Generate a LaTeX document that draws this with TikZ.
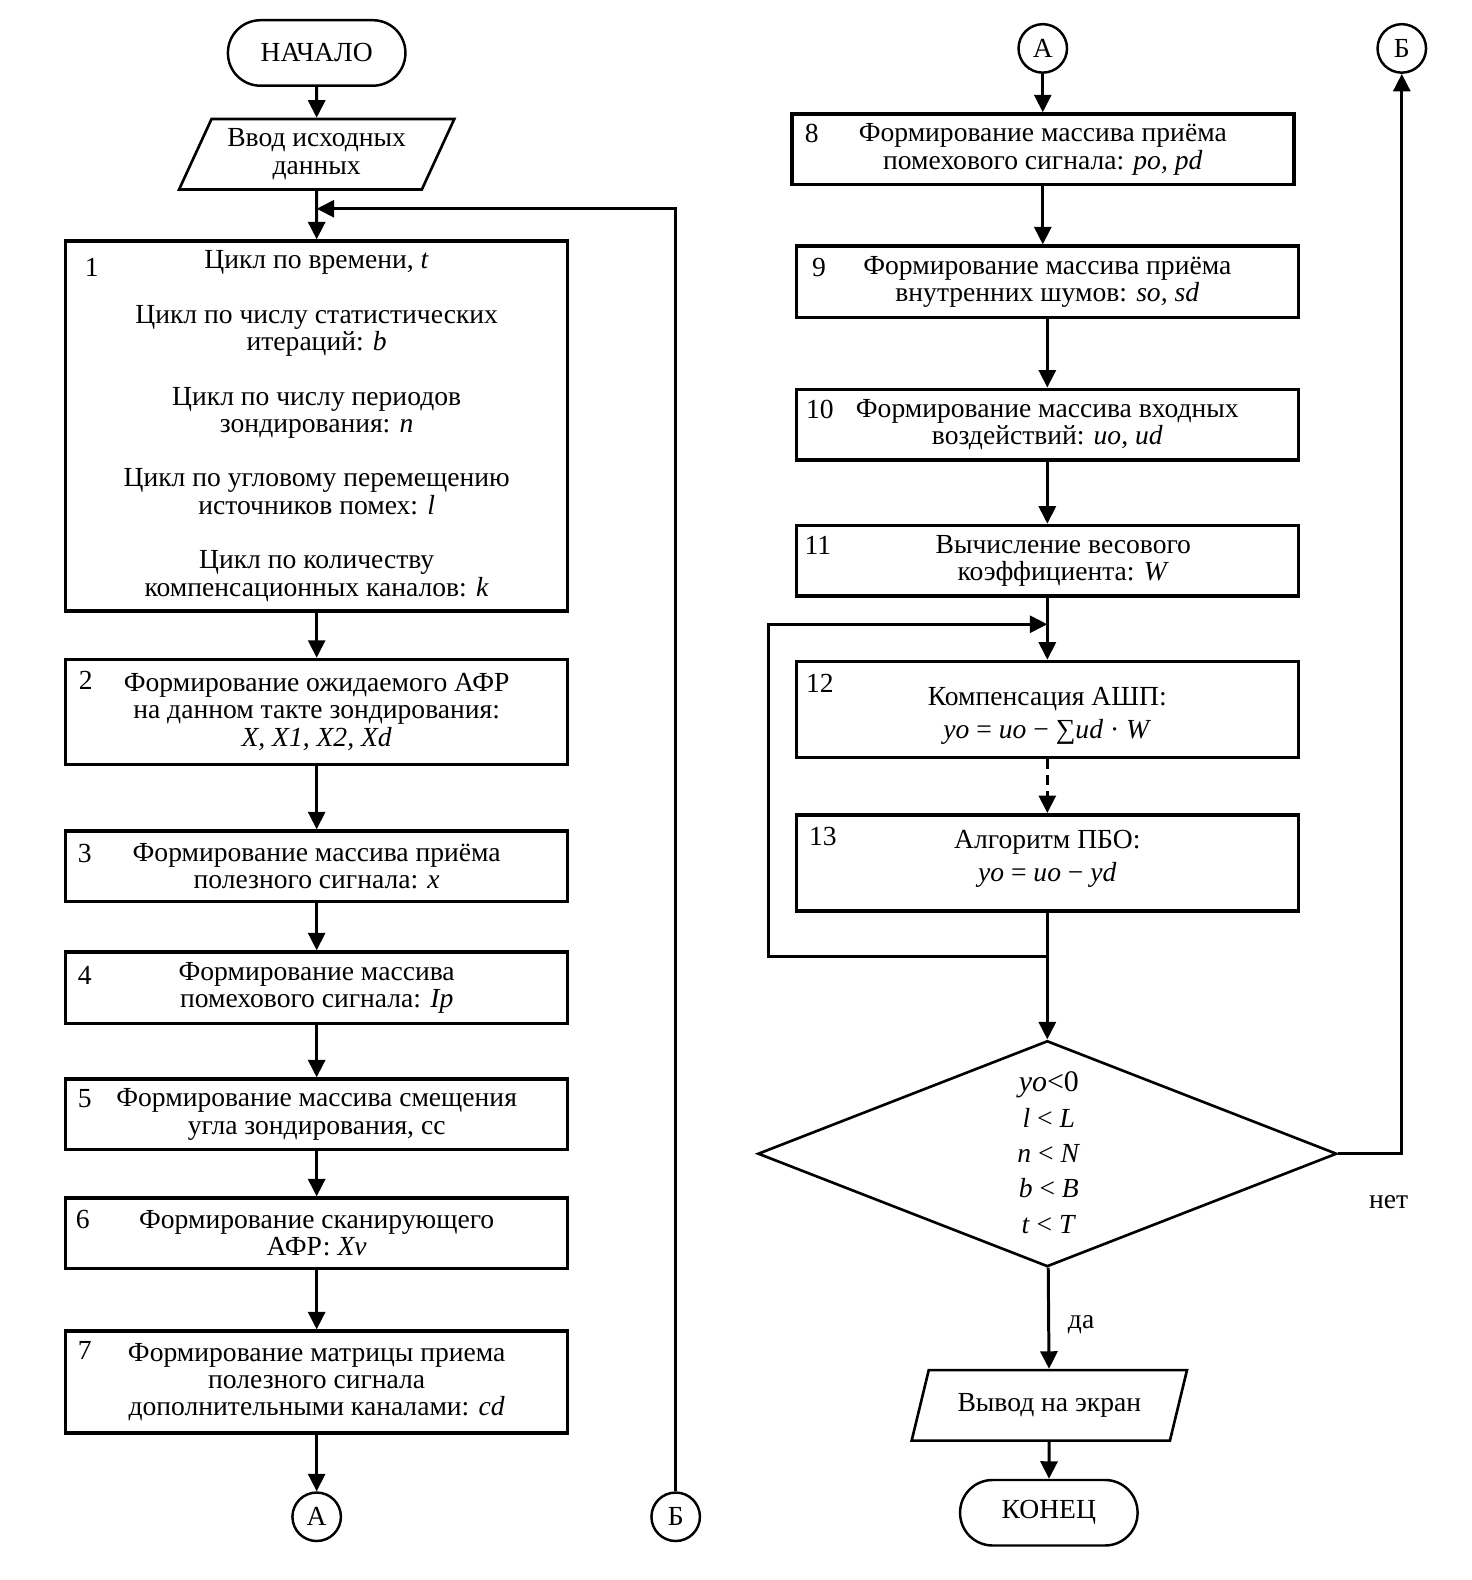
\documentclass[tikz,border=0pt]{standalone}
\usepackage{fontspec}
\setmainfont{Liberation Serif}
\usetikzlibrary{arrows.meta, shapes.geometric, positioning}

\begin{document}
\begin{tikzpicture}[x=0.02017cm, y=-0.02017cm,
    >={Triangle[length=0.35cm, width=0.34cm]},
    every node/.style={font=\fontsize{15.7}{15.6}\selectfont},
    box/.style={draw, line width=2pt, minimum width=10.04cm, align=center, inner sep=0pt},
    term/.style={draw, line width=1.4pt, rounded corners=0.65cm, minimum width=3.55cm, minimum height=1.31cm},
    io/.style={draw, trapezium, trapezium left angle=61.5, trapezium right angle=118.5,
        trapezium stretches=true, line width=1.5pt, minimum width=5.51cm, minimum height=1.41cm,
        align=center, inner sep=0pt},
    conn/.style={draw, circle, line width=1.4pt, minimum size=0.97cm, inner sep=0pt},
    num/.style={inner sep=0pt},
    line/.style={line width=1.7pt}]
    \useasboundingbox (0,0) rectangle (1459.6,1566.7);

    % Left column
    \node[term] (start) at (314,52.5) {НАЧАЛО};
    \node[io] (in) at (314,153) {Ввод исходных\\данных};
    \node[box, minimum height=7.40cm] (b1) at (314,422.5) {Цикл по времени, \textit{t}\\[0.54cm]
        Цикл по числу статистических\\итераций: \textit{b}\\[0.54cm]
        Цикл по числу периодов\\зондирования: \textit{n}\\[0.54cm]
        Цикл по угловому перемещению\\источников помех: \textit{l}\\[0.54cm]
        Цикл по количеству\\компенсационных каналов: \textit{k}};
    \node[box, minimum height=2.10cm] (b2) at (314,706) {Формирование ожидаемого АФР\\на данном такте зондирования:\\\textit{X, X1, X2, Xd}};
    \node[box, minimum height=1.41cm] (b3) at (314,859) {Формирование массива приёма\\полезного сигнала: \textit{x}};
    \node[box, minimum height=1.43cm] (b4) at (314,979.5) {Формирование массива\\помехового сигнала: \textit{Ip}};
    \node[box, minimum height=1.41cm] (b5) at (314,1105) {Формирование массива смещения\\угла зондирования, cc};
    \node[box, minimum height=1.41cm] (b6) at (314,1223) {Формирование сканирующего\\АФР: \textit{Xv}};
    \node[box, minimum height=2.04cm] (b7) at (314,1370.5) {Формирование матрицы приема\\полезного сигнала\\дополнительными каналами: \textit{cd}};
    \node[conn] (A1) at (314,1504) {А};
    \node[conn] (B1) at (670,1504) {Б};

    % Step numbers
    \node[num] (n1) at (91,265) {1};
    \node[num] (n2) at (85,675) {2};
    \node[num] (n3) at (84,846) {3};
    \node[num] (n4) at (84,967) {4};
    \node[num] (n5) at (84,1089) {5};
    \node[num] (n6) at (82,1209) {6};
    \node[num] (n7) at (84,1339) {7};

    % Right column
    \node[conn] (A2) at (1034,48) {А};
    \node[conn] (B2) at (1390,48) {Б};
    \node[box, minimum height=1.41cm] (b8) at (1034,148) {Формирование массива приёма\\помехового сигнала: \textit{po, pd}};
    \node[box, minimum height=1.43cm] (b9) at (1038.5,279.5) {Формирование массива приёма\\внутренних шумов: \textit{so, sd}};
    \node[box, minimum height=1.41cm] (b10) at (1038.5,421) {Формирование массива входных\\воздействий: \textit{uo, ud}};
    \node[box, minimum height=1.41cm] (b11) at (1038.5,556) {\hspace*{0.64cm}Вычисление весового\\\hspace*{0.64cm}коэффициента: \textit{W}};
    \node[box, minimum height=1.92cm] (b12) at (1038.5,703.5) {\rule{0pt}{18pt}Компенсация АШП:\\[3pt]\textit{yo} = \textit{uo} − ∑\textit{ud} · \textit{W}};
    \node[box, minimum height=1.92cm] (b13) at (1038.5,855.5) {Алгоритм ПБО:\\[3pt]\textit{yo} = \textit{uo} − \textit{yd}\\[-8pt]\mbox{}};
    \node[draw, diamond, line width=1.5pt, minimum width=11.58cm, minimum height=4.52cm, inner sep=0pt] (dec) at (1038.5,1144) {};
    \node[align=center] (cond) at (1040,1143) {{\fontsize{17}{17}\selectfont\textit{yo}<0}\\[4.5pt]
        \textit{l} < \textit{L}\\[4.5pt] \textit{n} < \textit{N}\\[4.5pt] \textit{b} < \textit{B}\\[4.5pt] \textit{t} < \textit{T}};
    \node (no) at (1377,1192) {нет};
    \node (yes) at (1072,1314) {да};
    \node[io] (out) at (1040.5,1393.5) {Вывод на экран};
    \node[term] (end) at (1040,1500) {КОНЕЦ};

    \node[num] (n8) at (805,132) {8};
    \node[num] (n9) at (812,265) {9};
    \node[num] (n10) at (813,406) {10};
    \node[num] (n11) at (811,541) {11};
    \node[num] (n12) at (813,678) {12};
    \node[num] (n13) at (816,829) {13};

    % Connectors, left
    \coordinate (fb) at (314,207);
    \draw[line, ->] (start) -- (in);
    \draw[line, ->] (in) -- (b1);
    \draw[line, ->] (B1) |- (fb);
    \draw[line, ->] (b1) -- (b2);
    \draw[line, ->] (b2) -- (b3);
    \draw[line, ->] (b3) -- (b4);
    \draw[line, ->] (b4) -- (b5);
    \draw[line, ->] (b5) -- (b6);
    \draw[line, ->] (b6) -- (b7);
    \draw[line, ->] (b7) -- (A1);

    % Connectors, right
    \draw[line, ->] (A2) -- (b8);
    \draw[line, ->] (b8) -- (b8 |- b9.north);
    \draw[line, ->] (b9) -- (b10);
    \draw[line, ->] (b10) -- (b11);
    \draw[line, ->] (b11) -- (b12);
    \draw[line, ->, dash pattern=on 0.2cm off 0.12cm] (b12) -- (b13);
    \draw[line, ->] (b13) -- (dec);

    % Inner loop
    \coordinate (lpA) at (762,948);
    \coordinate (lpB) at (1038.5,619);
    \draw[line, ->] (b13.south |- lpA) -- (lpA) |- (lpB);

    % Branches
    \draw[line, ->] (dec.east) -| (B2);
    \draw[line, ->] (dec) -- (out);
    \draw[line, ->] (out) -- (end);
\end{tikzpicture}
\end{document}
